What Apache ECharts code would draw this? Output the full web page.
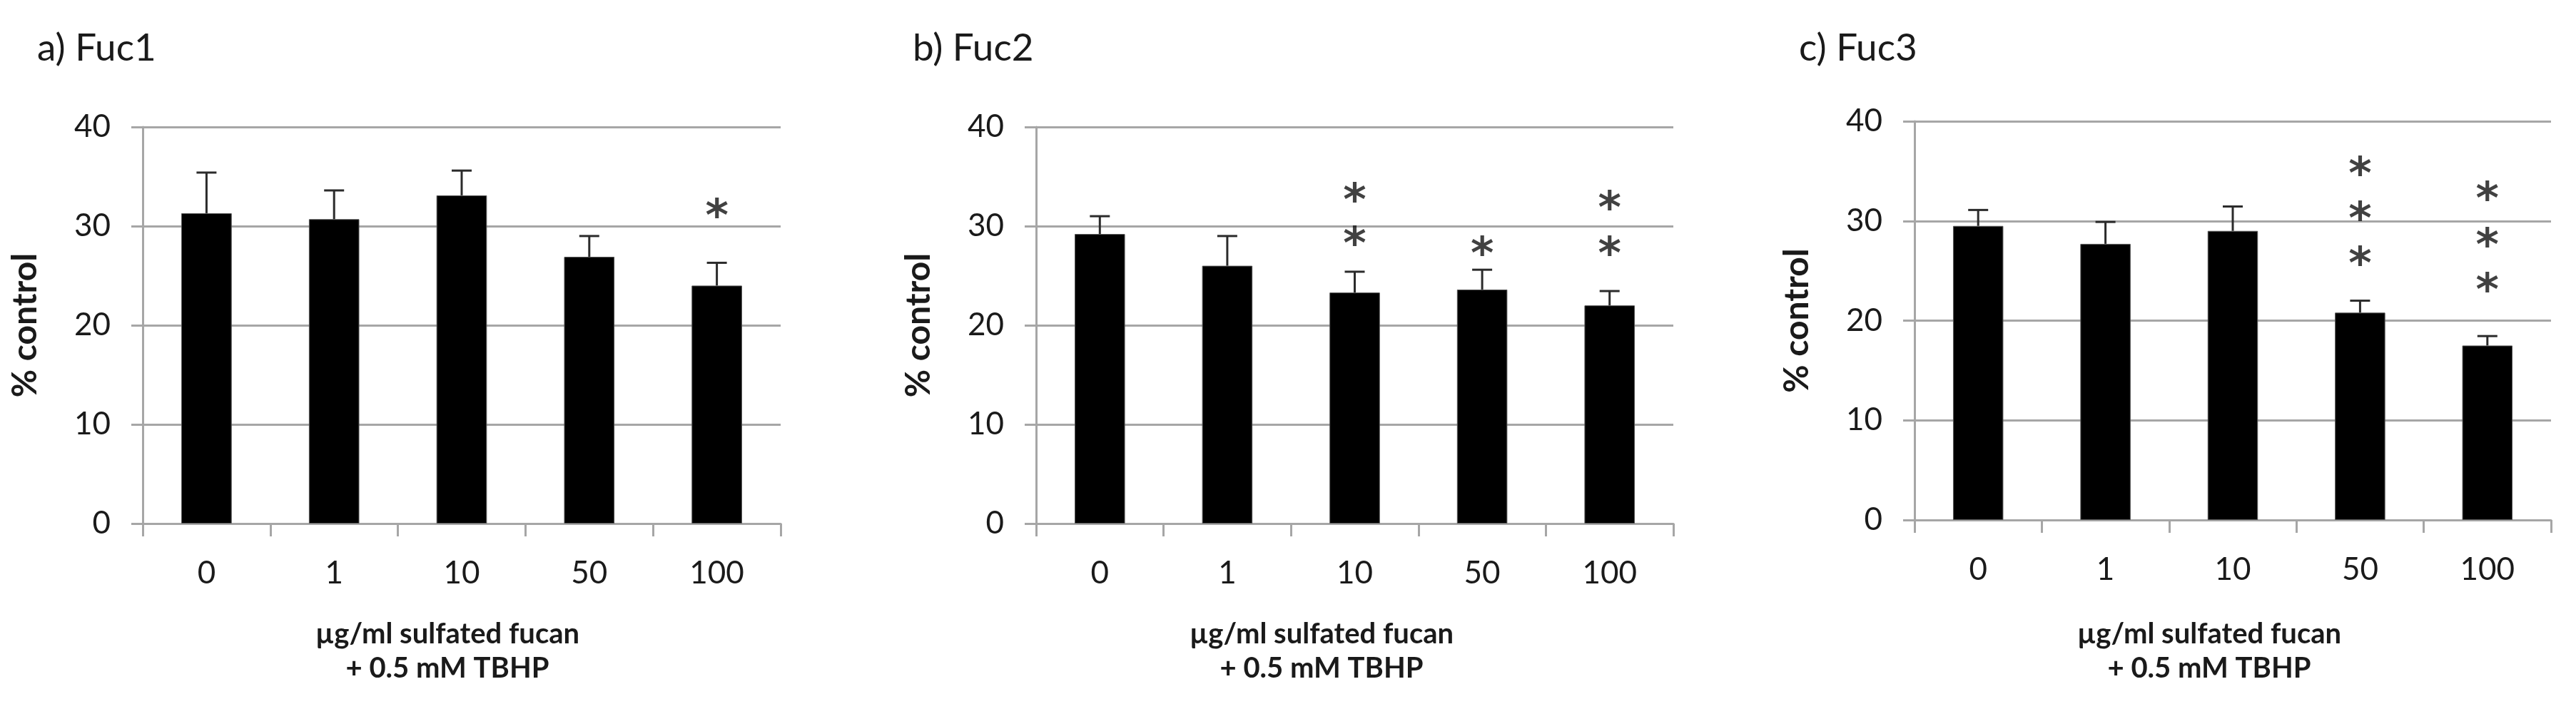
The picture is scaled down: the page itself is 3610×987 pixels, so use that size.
<!DOCTYPE html>
<html><head><meta charset="utf-8">
<script src="https://cdn.jsdelivr.net/npm/echarts@6/dist/echarts.min.js"></script>
<style>html,body{margin:0;padding:0;background:#fff}#c{width:3610px;height:987px}</style>
</head><body><div id="c"></div>
<script>
// ---------- data ----------
const categories = ['0', '1', '10', '50', '100'];
const yTicks = [0, 10, 20, 30, 40];
const panelTitles = ['a) Fuc1', 'b) Fuc2', 'c) Fuc3'];
const yAxisName = '% control';
const xAxisName = 'µg/ml sulfated fucan\n+ 0.5 mM TBHP';

const fuc1Mean = [31.3, 30.7, 33.1, 26.9, 24.0];
const fuc1Err  = [4.1, 2.9, 2.5, 2.1, 2.3];
const fuc1Stars = [[4, 31.75]];

const fuc2Mean = [29.2, 26.0, 23.3, 23.6, 22.0];
const fuc2Err  = [1.8, 3.0, 2.1, 2.0, 1.45];
const fuc2Stars = [[2, 33.3], [2, 28.9], [3, 27.9], [4, 32.5], [4, 27.9]];

const fuc3Mean = [29.5, 27.7, 29.0, 20.8, 17.5];
const fuc3Err  = [1.6, 2.2, 2.45, 1.2, 0.95];
const fuc3Stars = [[3, 35.4], [3, 30.9], [3, 26.4], [4, 32.9], [4, 28.3], [4, 23.8]];

// ---------- layout / style ----------
const FONT = 'Lato, "Open Sans", sans-serif';
const panels = [
  { mean: fuc1Mean, err: fuc1Err, stars: fuc1Stars, grid: { left: 200, top: 178, width: 894, height: 556 }, titleX: 47, xNameX: 622 },
  { mean: fuc2Mean, err: fuc2Err, stars: fuc2Stars, grid: { left: 1452, top: 178, width: 893, height: 556 }, titleX: 1274, xNameX: 1847 },
  { mean: fuc3Mean, err: fuc3Err, stars: fuc3Stars, grid: { left: 2683, top: 170, width: 892, height: 559 }, titleX: 2516, xNameX: 3091 }
];
const gridColor = '#a6a6a6';
const textColor = '#1a1a1a';

const grids = [], xAxes = [], yAxes = [], series = [], titles = [];
panels.forEach((p, i) => {
  grids.push(Object.assign({ containLabel: false }, p.grid));
  xAxes.push({
    type: 'category', gridIndex: i, data: categories, boundaryGap: true,
    axisLine: { show: true, lineStyle: { color: gridColor, width: 3 } },
    axisTick: { show: true, inside: false, length: 18, lineStyle: { color: gridColor, width: 3 } },
    axisLabel: { margin: 48, fontSize: 44, fontFamily: FONT, color: textColor, lineHeight: 44 },
    splitLine: { show: false }
  });
  yAxes.push({
    type: 'value', gridIndex: i, min: yTicks[0], max: yTicks[yTicks.length - 1], interval: yTicks[1] - yTicks[0],
    name: yAxisName, nameLocation: 'middle', nameRotate: 90, nameGap: 140,
    nameTextStyle: { fontSize: 48, fontWeight: 'bold', fontFamily: FONT, color: textColor },
    axisLine: { show: true, lineStyle: { color: gridColor, width: 3 } },
    axisTick: { show: true, length: 16, lineStyle: { color: gridColor, width: 3 } },
    axisLabel: { margin: 45, fontSize: 44, fontFamily: FONT, color: textColor },
    splitLine: { show: true, lineStyle: { color: gridColor, width: 3 } }
  });
  series.push({
    type: 'bar', xAxisIndex: i, yAxisIndex: i, data: p.mean, barWidth: '39.5%',
    itemStyle: { color: '#000', borderColor: '#555', borderWidth: 1 }, silent: true, z: 2
  });
  series.push({
    type: 'custom', xAxisIndex: i, yAxisIndex: i, z: 3, silent: true,
    data: p.mean.map((m, k) => [k, m, p.err[k]]),
    renderItem: (params, api) => {
      const x = api.value(0), m = api.value(1), e = api.value(2);
      const b = api.coord([x, m]);
      const t = api.coord([x, m + e]);
      const half = 14;
      const st = { stroke: '#2b2b2b', lineWidth: 3 };
      return { type: 'group', children: [
        { type: 'line', shape: { x1: b[0], y1: b[1], x2: t[0], y2: t[1] }, style: st },
        { type: 'line', shape: { x1: t[0] - half, y1: t[1], x2: t[0] + half, y2: t[1] }, style: st }
      ] };
    }
  });
  series.push({
    type: 'scatter', xAxisIndex: i, yAxisIndex: i, data: p.stars, symbolSize: 1, z: 4, silent: true,
    itemStyle: { color: 'rgba(0,0,0,0)' },
    label: { show: true, position: 'inside', formatter: '*', fontSize: 62, fontWeight: 'bold', fontFamily: '"DejaVu Sans", sans-serif', color: '#111', offset: [0, 14] }
  });
  titles.push({
    text: panelTitles[i], left: p.titleX, top: 36,
    textStyle: { fontSize: 53, fontWeight: 'normal', fontFamily: FONT, color: textColor }
  });
  titles.push({
    text: xAxisName, left: p.xNameX, top: 860, textAlign: 'center',
    textStyle: { fontSize: 40, fontWeight: 'bold', fontFamily: FONT, color: textColor, lineHeight: 48, align: 'center' }
  });
});

const chart = echarts.init(document.getElementById('c'), null, { renderer: 'canvas' });
chart.setOption({
  backgroundColor: '#fff',
  animation: false,
  title: titles,
  grid: grids,
  xAxis: xAxes,
  yAxis: yAxes,
  series: series
});
</script>
</body></html>
